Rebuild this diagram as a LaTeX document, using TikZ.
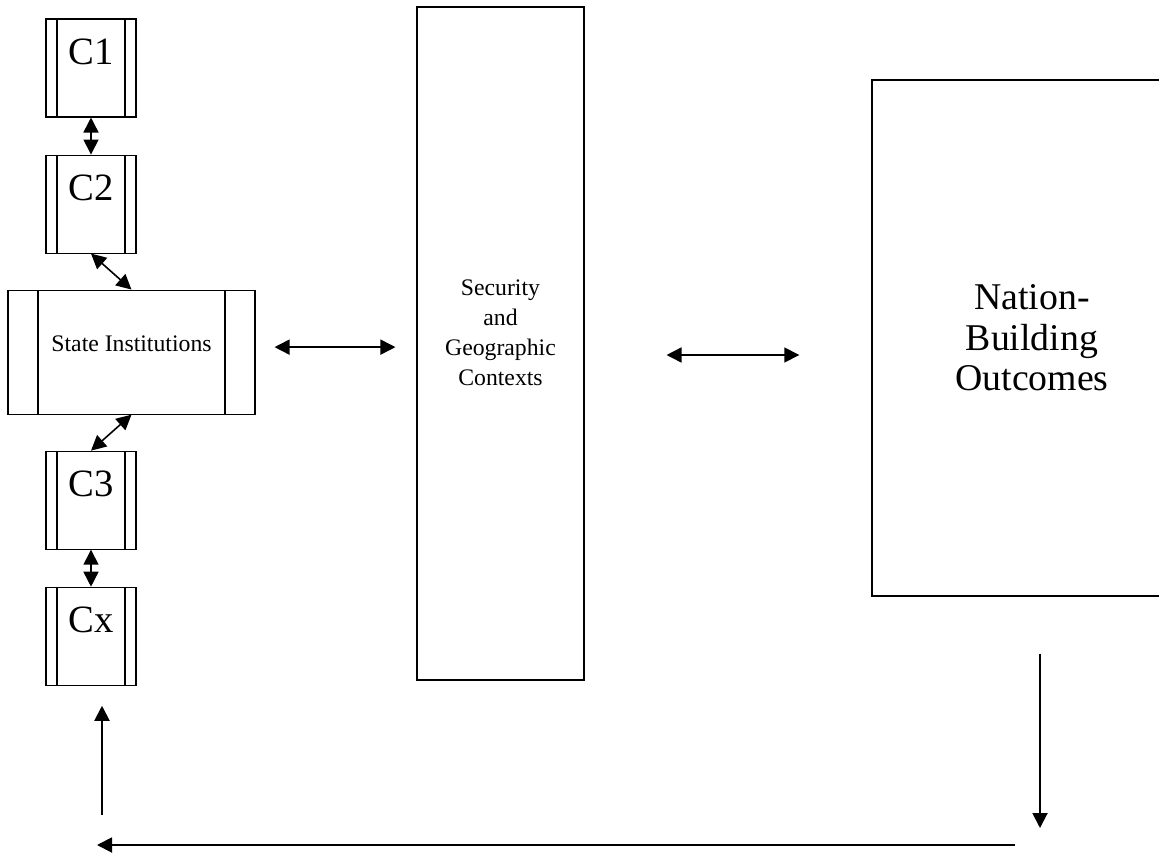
\documentclass[tikz,border=0pt]{standalone}
\usepackage{fontspec}
\setmainfont{Liberation Serif}
\usepackage{tikz}
\usetikzlibrary{positioning}
\usetikzlibrary{arrows.meta}

\begin{document}
\begin{tikzpicture}[
x=0.2mm, y=-0.2mm,
barbox/.style={rectangle, draw, line width=0.6pt, inner sep=0pt, align=center,
  path picture={
    \draw[line width=0.6pt] ([xshift=#1]path picture bounding box.north west) -- ([xshift=#1]path picture bounding box.south west)
      ([xshift=-#1]path picture bounding box.north east) -- ([xshift=-#1]path picture bounding box.south east);}},
countrynode/.style={barbox=2.2mm, minimum width=18mm, text height=9.1mm, text depth=10.5mm, font=\fontsize{22}{26}\selectfont},
institutionnode/.style={barbox=6mm, minimum width=49.4mm, minimum height=24.8mm, text depth=3.2mm, font=\fontsize{13.5}{16}\selectfont},
contextnode/.style={rectangle, draw, line width=0.6pt, inner sep=0pt, minimum width=33.4mm, minimum height=134.6mm, align=center, text depth=4.4mm, font=\fontsize{13.5}{17}\selectfont},
outcomenode/.style={rectangle, draw, line width=0.8pt, inner sep=0pt, minimum width=64mm, minimum height=103.2mm, align=center, font=\fontsize{21.5}{23}\selectfont},
link/.style={line width=0.9pt, {Triangle[length=3mm, width=3mm]}-{Triangle[length=3mm, width=3mm]}},
loop/.style={line width=1.1pt, -{Triangle[length=3mm, width=3mm]}},
]
\useasboundingbox (0,0) rectangle (1159,854);

%Nodes
\node[countrynode]		(c1)	at (91,68)					{C1};
\node[countrynode]		(c2)	[below=7.4mm of c1]			{C2};
\node[institutionnode]	(inst)	[below=7.2mm of c2, xshift=8.1mm]	{State Institutions};
\node[countrynode]		(c3)	[below=7.2mm of inst, xshift=-8.1mm]	{C3};
\node[countrynode]		(cx)	[below=7.4mm of c3]			{Cx};
\node[contextnode]		(ctx)	at (500.5,343.5)			{Security\\and\\Geographic\\Contexts};
\node[outcomenode]		(nbo)	at (1032,338)				{Nation-\\Building\\Outcomes};

%Feedback points
\coordinate (downend)	at (1040,828);
\coordinate (loopright)	at (1015,845);
\coordinate (loopleft)	at (97,845);
\coordinate (upstart)	at (102,815);

%Lines
\draw[link] (c1.south) -- (c2.north);
\draw[link] (c2.south) -- (inst.north);
\draw[link] (inst.south) -- (c3.north);
\draw[link] (c3.south) -- (cx.north);
\draw[link, shorten <=3.8mm, shorten >=4.2mm] ([yshift=1mm]inst.east) -- ([yshift=1mm]inst.east -| ctx.west);
\draw[link, shorten <=16.4mm, shorten >=14.4mm] ([yshift=-2.3mm]ctx.east) -- ([yshift=-2.3mm]ctx.east -| nbo.west);

%Feedback loop
\draw[loop, shorten <=11.4mm] (nbo.south -| downend) -- (downend);
\draw[loop] (loopright) -- (loopleft);
\draw[loop, shorten >=4mm] (upstart) -- (upstart |- cx.south);
\end{tikzpicture}
\end{document}
